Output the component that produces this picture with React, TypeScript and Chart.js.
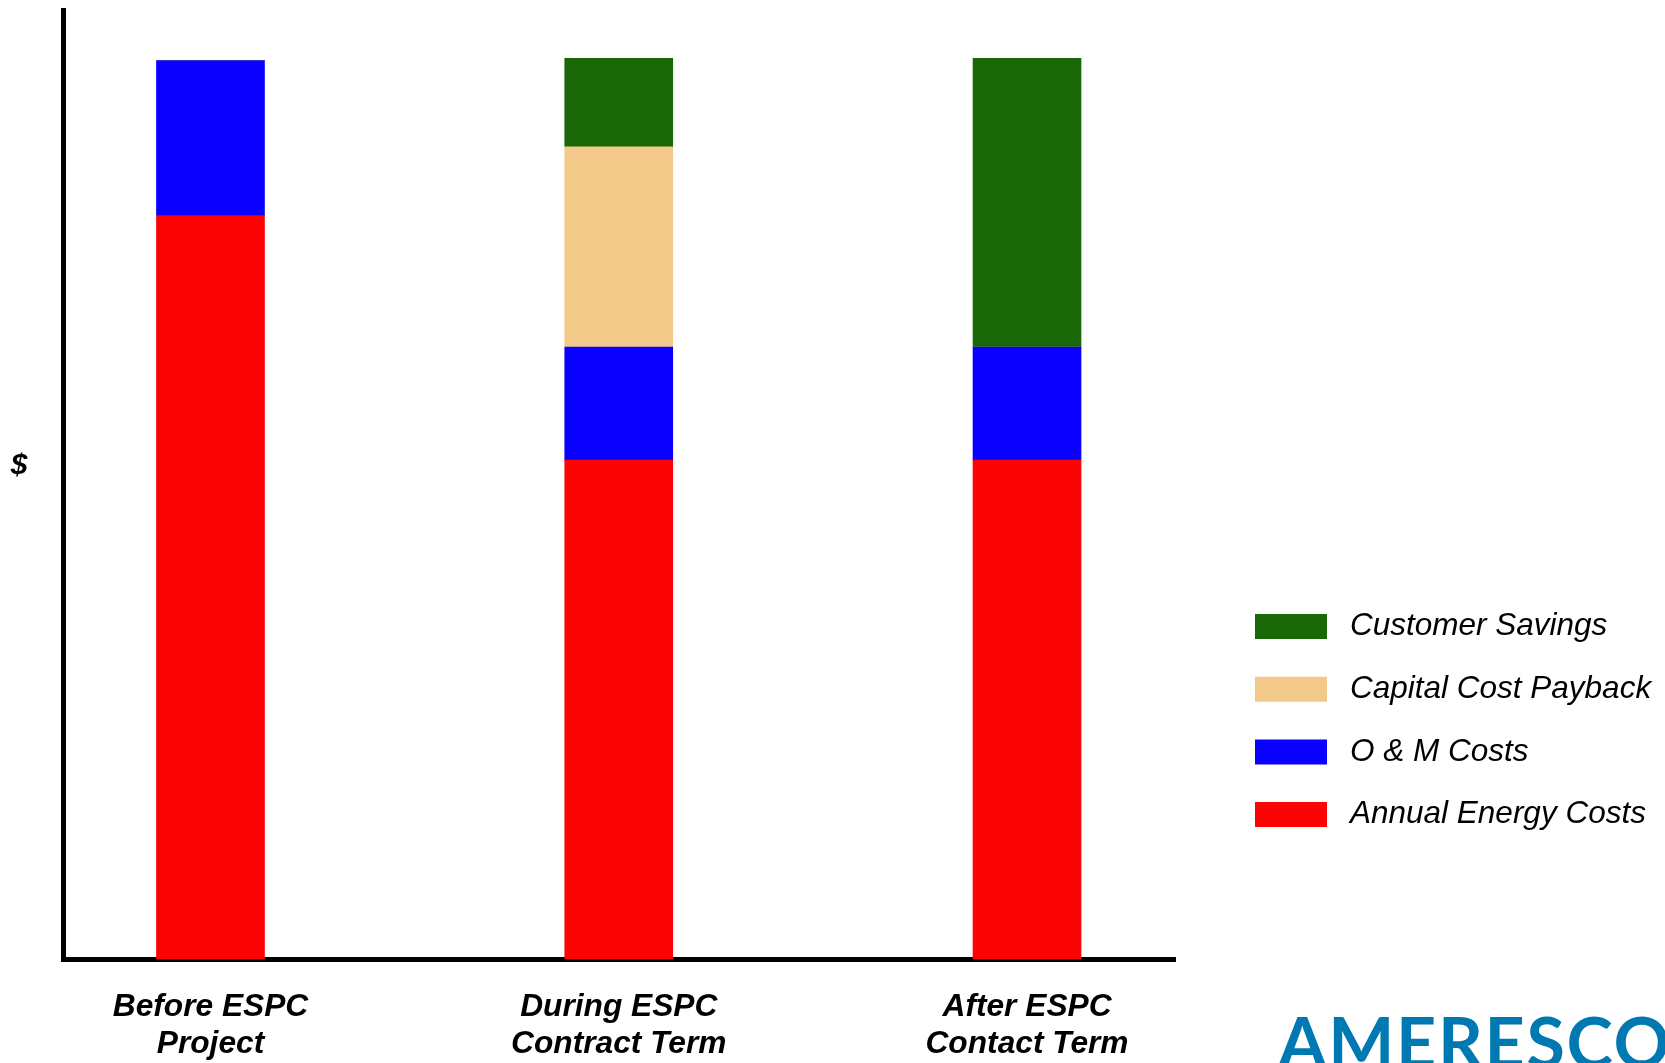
import React, { useEffect, useRef } from 'react';
import { Chart, registerables } from 'chart.js';

Chart.register(...registerables);

// ---- data ----
const categories: string[][] = [
  ['Before ESPC', 'Project'],
  ['During ESPC', 'Contract Term'],
  ['After ESPC', 'Contact Term'],
];
const categoryPositions = [1, 2, 3];
const annualEnergyCosts = [78.35, 52.6, 52.6];
const omCosts = [16.33, 11.9, 11.9];
const capitalCostPayback = [0, 21.1, 0];
const customerSavings = [0, 9.3, 30.4];
const seriesNames = ['Annual Energy Costs', 'O & M Costs', 'Capital Cost Payback', 'Customer Savings'];
const seriesColors = ['#fb0404', '#0a00fd', '#f3c98a', '#196808'];
const yAxisLabel = '$';
const yAxisLabelValue = 52;
const logoText = 'AMERESCO';

const FONT = "'Liberation Sans', Arial, Helvetica, sans-serif";
const W = 1665;
const H = 1063;

const logoPlugin = {
  id: 'logoText',
  afterDraw(chart: any) {
    const ctx = chart.ctx as CanvasRenderingContext2D;
    ctx.save();
    ctx.font = "bold 70px Lato, 'Open Sans', sans-serif";
    ctx.fillStyle = '#0079b3';
    ctx.textAlign = 'left';
    ctx.textBaseline = 'alphabetic';
    const asc = ctx.measureText('E').actualBoundingBoxAscent;
    const w = ctx.measureText(logoText).width;
    const target = 392;
    if ('letterSpacing' in ctx) {
      (ctx as any).letterSpacing = `${(target - w) / (logoText.length - 1)}px`;
    }
    ctx.fillText(logoText, 1278, 1017 + asc);
    ctx.restore();
  },
};

export default function App() {
  const ref = useRef<HTMLCanvasElement | null>(null);

  useEffect(() => {
    if (!ref.current) return;
    const series = [annualEnergyCosts, omCosts, capitalCostPayback, customerSavings];

    // legend geometry: a white outline trims the swatch so the text gap matches
    const legendFontSize = 31.5;
    const swatchEdge = 14.5; // white outline width
    const boxW = 72 + swatchEdge; // visible swatch 72 px wide
    const boxH = 25 + swatchEdge; // visible swatch 25 px high
    const legendPadding = 62.7 - Math.max(boxH, legendFontSize);
    const mctx = document.createElement('canvas').getContext('2d') as CanvasRenderingContext2D;
    mctx.font = `italic ${legendFontSize}px ${FONT}`;
    const maxText = Math.max(...seriesNames.map((n) => mctx.measureText(n).width));
    const legendW = legendPadding + boxW + legendFontSize / 2 + maxText + 10;
    const legendLeft = 1255 - swatchEdge / 2 - legendPadding;
    const padRight = Math.max(0, W - legendLeft - legendW);
    const chartRight = 1175.5;
    const firstRowTop = 626.5 - Math.max(boxH, legendFontSize) / 2;
    const titlePadTop = firstRowTop - 10 - legendPadding - 10;

    const chart = new Chart(ref.current, {
      type: 'bar',
      data: {
        datasets: series.map((vals, i) => ({
          label: seriesNames[i],
          data: vals.map((v, j) => ({ x: categoryPositions[j], y: v })),
          backgroundColor: seriesColors[i],
          borderWidth: 0,
          barThickness: 108,
        })),
      },
      options: {
        animation: false,
        responsive: false,
        layout: { padding: { top: 10, right: padRight, bottom: 0, left: 0 } },
        plugins: {
          legend: {
            position: 'right',
            align: 'start',
            reverse: true,
            maxWidth: 600,
            title: {
              display: true,
              text: ' ',
              font: { size: 10, lineHeight: 1 },
              padding: { top: titlePadTop, bottom: 0 },
            },
            labels: {
              boxWidth: boxW,
              boxHeight: boxH,
              padding: legendPadding,
              color: '#000',
              font: { family: FONT, size: legendFontSize, style: 'italic' },
              generateLabels: (c: any) =>
                Chart.defaults.plugins.legend.labels.generateLabels(c).map((it: any) => ({
                  ...it,
                  strokeStyle: '#ffffff',
                  lineWidth: swatchEdge,
                })),
            },
          },
          tooltip: { enabled: false },
        },
        scales: {
          x: {
            type: 'linear',
            stacked: true,
            min: 0.64,
            max: 3.3637,
            offset: false,
            grid: { display: false, drawTicks: false },
            border: { display: true, color: '#000', width: 5 },
            afterBuildTicks: (s: any) => {
              s.ticks = categoryPositions.map((v) => ({ value: v }));
            },
            afterFit: (s: any) => {
              s.height = 103.5;
              s.paddingLeft = 0;
              s.paddingRight = 0;
            },
            ticks: {
              autoSkip: false,
              maxRotation: 0,
              minRotation: 0,
              padding: 29.4,
              color: '#000',
              font: { family: FONT, size: 31.7, weight: 'bold', style: 'italic', lineHeight: 1.1735 },
              callback: (v: any) => categories[categoryPositions.indexOf(Number(v))] ?? '',
            },
          },
          y: {
            type: 'linear',
            stacked: true,
            min: 0,
            max: 100,
            grid: { display: false, drawTicks: false },
            border: { display: true, color: '#000', width: 5 },
            afterBuildTicks: (s: any) => {
              s.ticks = [{ value: yAxisLabelValue }];
            },
            afterFit: (s: any) => {
              s.width = 63.5;
              s.paddingTop = 0;
              s.paddingBottom = 0;
            },
            ticks: {
              padding: 36,
              color: '#000',
              font: { family: FONT, size: 30, weight: 'bold', style: 'italic' },
              callback: () => yAxisLabel,
            },
          },
          spacer: {
            type: 'linear',
            position: 'right',
            display: true,
            grid: { display: false, drawTicks: false },
            border: { display: false },
            ticks: { display: false },
            afterFit: (s: any) => {
              s.width = Math.max(0, legendLeft - chartRight);
              s.paddingTop = 0;
              s.paddingBottom = 0;
            },
          },
        },
      } as any,
      plugins: [logoPlugin],
    });
    return () => chart.destroy();
  }, []);

  return (
    <div style={{ position: 'fixed', left: 0, top: 0, width: W, height: H, background: '#fff' }}>
      <canvas ref={ref} width={W} height={H} style={{ display: 'block', width: W, height: H }} />
    </div>
  );
}
